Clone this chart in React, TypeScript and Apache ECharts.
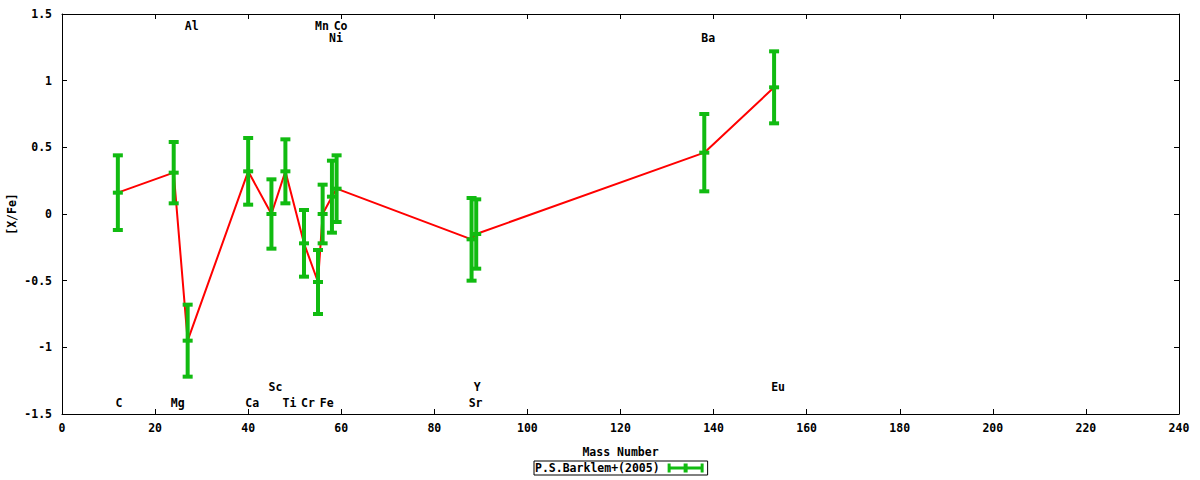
import React, { useEffect, useRef } from 'react';
import * as echarts from 'echarts';

const masses = [12, 24, 27, 40, 45, 48, 52, 55, 56, 58, 59, 88, 89, 138, 153];
const elements = ['C', 'Mg', 'Al', 'Ca', 'Sc', 'Ti', 'Cr', 'Mn', 'Fe', 'Ni', 'Co', 'Sr', 'Y', 'Ba', 'Eu'];
const values = [0.16, 0.31, -0.95, 0.32, 0.0, 0.32, -0.22, -0.51, 0.0, 0.13, 0.19, -0.19, -0.15, 0.46, 0.95];
const errors = [0.28, 0.23, 0.27, 0.25, 0.26, 0.24, 0.25, 0.24, 0.22, 0.27, 0.25, 0.31, 0.26, 0.29, 0.27];
const labelRows = ['b1', 'b1', 't1', 'b1', 'b2', 'b1', 'b1', 't1', 'b1', 't2', 't1', 'b1', 'b2', 't2', 'b2'];
const seriesName = 'P.S.Barklem+(2005)';
const xTicks = { min: 0, max: 240, interval: 20 };
const yTicks = { min: -1.5, max: 1.5, interval: 0.5 };

const FONT = '"DejaVu Sans Mono", monospace';
const GREEN = '#11bb11';
const ROW_Y: Record<string, number> = { b1: -1.42, b2: -1.3, t1: 1.41, t2: 1.32 };

export default function App() {
  const ref = useRef<HTMLDivElement>(null);
  useEffect(() => {
    const chart = echarts.init(ref.current!, null, { renderer: 'svg' });
    const textStyle = { fontFamily: FONT, fontSize: 11.5, fontWeight: 'bold' as const, color: '#000' };
    const axisCommon = {
      axisLine: { show: true, onZero: false, lineStyle: { color: '#000', width: 1 } },
      axisTick: { show: true, inside: true, length: 5, lineStyle: { color: '#000', width: 1 } },
      splitLine: { show: false },
    };
    const option: any = {
      animation: false,
      backgroundColor: '#fff',
      textStyle,
      grid: { left: 62, right: 21, top: 14, bottom: 66, containLabel: false, outerBoundsMode: 'none' },
      legend: {
        left: 534,
        top: 461,
        data: [
          {
            name: seriesName,
            icon: 'path://M0,3L36,3L36,6L0,6Z M0,0L3,0L3,9L0,9Z M33,0L36,0L36,9L33,9Z M16,0L20,0L20,9L16,9Z',
          },
        ],
        align: 'right',
        itemWidth: 36,
        itemHeight: 9,
        itemGap: 0,
        padding: [1, 4, 1, 1],
        borderColor: '#000',
        borderWidth: 1,
        textStyle: { ...textStyle, padding: [0, 3, 0, 0] },
        itemStyle: { color: GREEN },
      },
      xAxis: [
        {
          type: 'value',
          ...xTicks,
          name: 'Mass Number',
          nameLocation: 'middle',
          nameGap: 32,
          nameMoveOverlap: false,
          nameTextStyle: textStyle,
          axisLabel: { ...textStyle, margin: 8 },
          ...axisCommon,
        },
        {
          type: 'value',
          position: 'top',
          ...xTicks,
          axisLabel: { show: false },
          ...axisCommon,
        },
      ],
      yAxis: [
        {
          type: 'value',
          ...yTicks,
          name: '[X/Fe]',
          nameLocation: 'middle',
          nameRotate: 90,
          nameGap: 44,
          nameMoveOverlap: false,
          nameTextStyle: textStyle,
          axisLabel: { ...textStyle, margin: 10 },
          ...axisCommon,
        },
        {
          type: 'value',
          position: 'right',
          ...yTicks,
          axisLabel: { show: false },
          ...axisCommon,
        },
      ],
      series: [
        {
          type: 'line',
          data: masses.map((m, i) => [m, values[i]]),
          symbol: 'none',
          lineStyle: { color: '#ff0000', width: 2 },
          z: 2,
          silent: true,
        },
        {
          type: 'custom',
          name: seriesName,
          itemStyle: { color: GREEN },
          data: masses.map((m, i) => [m, values[i], errors[i]]),
          z: 3,
          silent: true,
          renderItem: (params: any, api: any) => {
            const x = api.value(0);
            const y = api.value(1);
            const e = api.value(2);
            const top = api.coord([x, y + e]);
            const bot = api.coord([x, y - e]);
            const mid = api.coord([x, y]);
            const hw = 5;
            const st = { stroke: GREEN, lineWidth: 4 };
            const hl = (p: number[]) => ({
              type: 'line',
              shape: { x1: p[0] - hw, y1: p[1], x2: p[0] + hw, y2: p[1] },
              style: st,
            });
            return {
              type: 'group',
              children: [
                { type: 'line', shape: { x1: top[0], y1: top[1], x2: bot[0], y2: bot[1] }, style: st },
                hl(top),
                hl(bot),
                hl(mid),
              ],
            };
          },
        },
        {
          type: 'custom',
          name: 'labels',
          data: masses.map((m, i) => [m, ROW_Y[labelRows[i]], i]),
          z: 4,
          silent: true,
          renderItem: (params: any, api: any) => {
            const idx = api.value(2);
            const p = api.coord([api.value(0), api.value(1)]);
            const name = elements[idx];
            return {
              type: 'text',
              x: p[0] + (name.length > 1 ? 4 : 1),
              y: p[1],
              style: {
                text: name,
                fill: '#000',
                font: `bold 11.5px ${FONT}`,
                align: 'center',
                verticalAlign: 'middle',
              },
            };
          },
        },
      ],
    };
    chart.setOption(option);
    return () => chart.dispose();
  }, []);
  return <div ref={ref} style={{ position: 'fixed', left: 0, top: 0, width: 1200, height: 480 }} />;
}
